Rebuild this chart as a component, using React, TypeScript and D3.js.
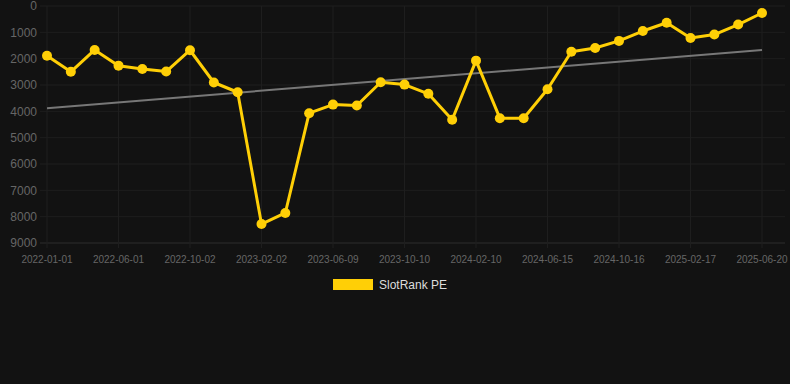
import React from "react";
import * as d3 from "d3";

const categories = [
  "2022-01-01","c2","c3","2022-06-01","c5","c6","2022-10-02","c8","c9","2023-02-02","c11","c12",
  "2023-06-09","c14","c15","2023-10-10","c17","c18","2024-02-10","c20","c21","2024-06-15","c23","c24",
  "2024-10-16","c26","c27","2025-02-17","c29","c30","2025-06-20",
];
const tickLabels = ["2022-01-01","2022-06-01","2022-10-02","2023-02-02","2023-06-09","2023-10-10","2024-02-10","2024-06-15","2024-10-16","2025-02-17","2025-06-20"];
const values = [
  1890, 2500, 1670, 2265, 2390, 2490, 1680, 2905, 3275, 8280, 7860, 4070, 3745, 3780, 2895, 2985,
  3335, 4320, 2075, 4260, 4260, 3160, 1735, 1595, 1325, 950, 635, 1215, 1085, 705, 265,
];
const trend = [3880, 1670];
const yTicks = [0, 1000, 2000, 3000, 4000, 5000, 6000, 7000, 8000, 9000];
const seriesName = "SlotRank PE";

const W = 790, H = 384;
const YELLOW = "#FFCF06";

export default function App() {
  const x = d3.scalePoint<string>().domain(categories).range([47, 762]);
  const y = d3.scaleLinear().domain([0, 9000]).range([6, 243]);
  const line = d3.line<number>().x((_, i) => x(categories[i])!).y((d) => y(d));
  const font = "'Liberation Sans', Arial, sans-serif";
  const first = categories[0], last = categories[categories.length - 1];
  return (
    <svg width={W} height={H} style={{ position: "absolute", left: 0, top: 0, background: "#121212" }} fontFamily={font}>
      <rect width={W} height={H} fill="#121212" />
      {yTicks.map((t) => (
        <g key={t}>
          <line x1={40} x2={785} y1={y(t)} y2={y(t)} stroke={t === 9000 ? "#2c2c2c" : "#1e1e1e"} strokeWidth={1} />
          <text x={37} y={y(t)} dy="0.35em" textAnchor="end" fontSize={12} fill="#666">{t}</text>
        </g>
      ))}
      {tickLabels.map((lab) => (
        <g key={lab}>
          <line x1={x(lab)} x2={x(lab)} y1={6} y2={248} stroke="#1e1e1e" strokeWidth={1} />
          <text x={x(lab)} y={263} textAnchor="middle" fontSize={10} fill="#666">{lab}</text>
        </g>
      ))}
      <line x1={x(first)} x2={x(last)} y1={y(trend[0])} y2={y(trend[1])} stroke="#777" strokeWidth={2} />
      <path d={line(values) ?? ""} fill="none" stroke={YELLOW} strokeWidth={3} strokeLinejoin="round" />
      {values.map((v, i) => (
        <circle key={i} cx={x(categories[i])} cy={y(v)} r={5} fill={YELLOW} />
      ))}
      <rect x={333} y={279} width={40} height={11} fill={YELLOW} />
      <text x={379} y={289} fontSize={12} fill="#ddd">{seriesName}</text>
    </svg>
  );
}
